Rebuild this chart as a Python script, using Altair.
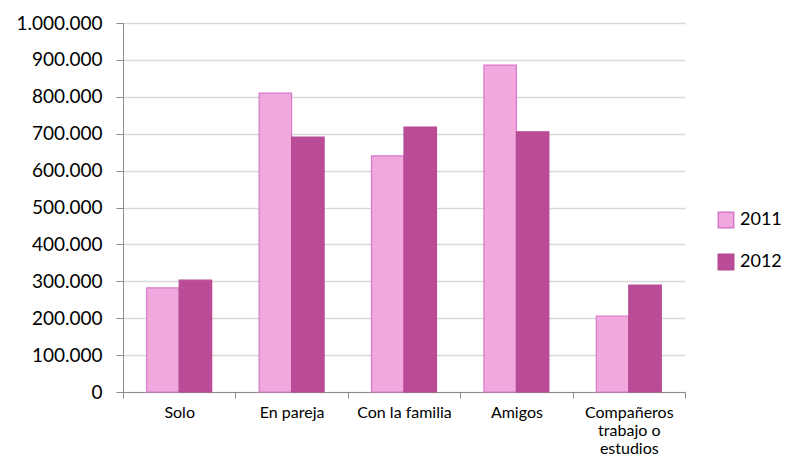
import altair as alt
import pandas as pd

categories = ["Solo", "En pareja", "Con la familia", "Amigos", "Compañeros trabajo o estudios"]
years = ["2011", "2012"]
values_2011 = [282000, 810000, 640000, 886000, 206000]
values_2012 = [303000, 691000, 718000, 705000, 290000]

rows = []
for c, a, b in zip(categories, values_2011, values_2012):
    rows.append({"cat": c, "year": "2011", "value": a})
    rows.append({"cat": c, "year": "2012", "value": b})
df = pd.DataFrame(rows)

FONT = "Lato"

chart = alt.Chart(df).mark_bar(strokeWidth=1.2).encode(
    x=alt.X("cat:N", sort=categories, title=None,
            scale=alt.Scale(paddingInner=0, paddingOuter=0),
            axis=alt.Axis(labelAngle=0, labelFontSize=16, labelColor="#000000",
                          labelFont=FONT, domainColor="#8c8c8c", tickColor="#8c8c8c",
                          tickBand="extent", tickSize=6, labelPadding=6, labelLineHeight=18,
                          labelBaseline="top",
                          labelExpr="datum.label == 'Compañeros trabajo o estudios' ? ['Compañeros', 'trabajo o', 'estudios'] : datum.label")),
    xOffset=alt.XOffset("year:N", sort=years,
                        scale=alt.Scale(paddingInner=0, paddingOuter=0.73)),
    y=alt.Y("value:Q", title=None,
            scale=alt.Scale(domain=[0, 1000000], nice=False),
            axis=alt.Axis(values=list(range(0, 1000001, 100000)), labelFontSize=19,
                          labelColor="#000000", labelFont=FONT, domainColor="#8c8c8c",
                          tickColor="#8c8c8c", tickSize=7, labelPadding=14,
                          gridColor="#d9d9d9", gridWidth=1.3,
                          labelExpr="replace(format(datum.value, ',d'), /,/g, '.')")),
    fill=alt.Color("year:N", sort=years,
                   scale=alt.Scale(domain=years, range=["#f1a8dd", "#ba4c97"]),
                   legend=alt.Legend(title=None, orient="none", legendX=594, legendY=188,
                                     symbolType="square", symbolSize=240, labelFontSize=18,
                                     labelFont=FONT, labelColor="#000000", rowPadding=20,
                                     symbolStrokeWidth=1.5, labelOffset=5)),
    stroke=alt.Color("year:N", sort=years,
                     scale=alt.Scale(domain=years, range=["#d878cc", "#b64a94"]),
                     legend=None),
).properties(
    width=562, height=369,
    autosize=alt.AutoSizeParams(type="none"),
    padding={"left": 115, "top": 15, "right": 96, "bottom": 66},
).configure_view(stroke=None).configure_axis(grid=True).configure_axisX(grid=False)

chart.save("out.html", embed_options={"renderer": "svg", "actions": False})
